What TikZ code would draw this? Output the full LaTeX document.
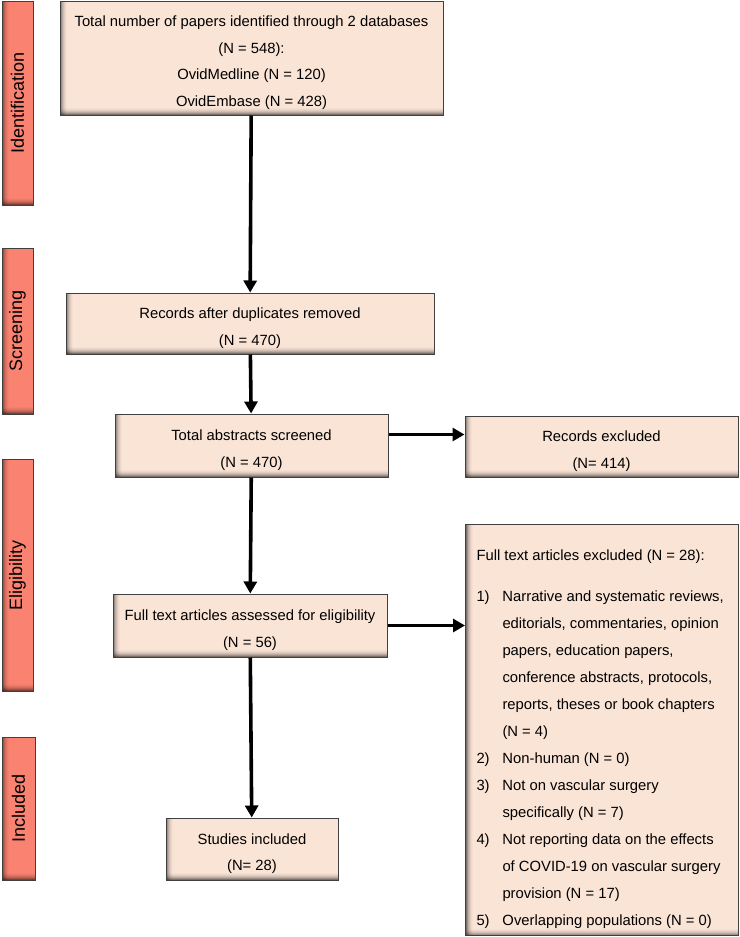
\documentclass[tikz,border=0pt]{standalone}
\usepackage{fontspec}
\setmainfont{Liberation Sans}
\usepackage{xcolor}
\usepackage{tikz}
\usetikzlibrary{arrows.meta, positioning, calc}

\definecolor{peach}{RGB}{250,228,214}
\definecolor{salmon}{RGB}{250,130,112}
\definecolor{edgegray}{RGB}{64,64,64}

% item number and hanging indent for the exclusion list
\newcommand{\xnum}[1]{\makebox[26pt][l]{#1}}
\newcommand{\xind}{\hspace*{26pt}}
% taller first line pushes box text a little down
\newcommand{\tallstrut}{\rule{0pt}{20pt}}

\begin{document}
\begin{tikzpicture} [x = 1pt, y = -1pt, font = \fontsize{14.8}{26.6}\selectfont,
	shaded/.style = {draw = edgegray, line width = 1pt, fill = #1, inner sep = 0pt,
		path picture = {
			% soft inner shadow along left and bottom edges
			\foreach \d/\o in {0.5/0.5, 1.5/0.36, 2.5/0.25, 3.5/0.16, 4.5/0.1, 5.5/0.05, 6.5/0.02} {
				\draw [black, opacity = \o, line width = 1pt]
				([xshift = \d pt]path picture bounding box.south west) -- ([xshift = \d pt]path picture bounding box.north west);
				\draw [black, opacity = \o, line width = 1pt]
				([yshift = \d pt]path picture bounding box.south west) -- ([yshift = \d pt]path picture bounding box.south east);
			}
		}},
	box/.style = {shaded = peach, align = center},
	phase/.style = {shaded = salmon, minimum width = 31pt, font = \fontsize{18}{20}\selectfont},
	flow/.style = {-{Triangle[width = 13pt, length = 12pt]}, line width = 3.6pt}]
			% Page frame
			\useasboundingbox (0,0) rectangle (739,937);

			% Phase labels down the left side
			\node (pid) [phase, minimum height = 204pt] at (17.5, 103) {\rotatebox{90}{Identification}};
			\node (pscr) [phase, minimum height = 166pt] at (17.5, 331) {\rotatebox{90}{Screening}};
			\node (pelig) [phase, minimum height = 232pt] at (17.5, 575) {\rotatebox{90}{Eligibility}};
			\node (pinc) [phase, minimum height = 143pt, minimum width = 33pt] at (18.5, 808.5) {\rotatebox{90}{Included}};

			% Main column
			\node (id) [box, minimum width = 383pt, minimum height = 114pt] at (251.5, 58)
			{\tallstrut Total number of papers identified through 2 databases\\ (N = 548):\\ OvidMedline (N = 120)\\ OvidEmbase (N = 428)};
			\node (dup) [box, minimum width = 368pt, minimum height = 61pt] at (250, 323.5)
			{\tallstrut Records after duplicates removed\\ (N = 470)};
			\node (abs) [box, minimum width = 273pt, minimum height = 63pt] at (251.5, 445.5)
			{\tallstrut Total abstracts screened\\ (N = 470)};
			\node (full) [box, minimum width = 274pt, minimum height = 63pt] at (250, 625.5)
			{\tallstrut Full text articles assessed for eligibility\\ (N = 56)};
			\node (incl) [box, minimum width = 172pt, minimum height = 62pt] at (252, 849)
			{\tallstrut Studies included\\ (N= 28)};

			% Exclusion boxes on the right
			\node (recx) [box, minimum width = 273pt, minimum height = 61pt] at (601.5, 446.5)
			{\tallstrut Records excluded\\ (N= 414)};
			\node (fullx) [shaded = peach, anchor = north west, inner xsep = 11pt] at (465, 524)
			{\parbox[c][411pt][t]{251pt}{\fontsize{14.8}{27}\selectfont\raggedright
					\vspace*{25pt}
					Full text articles excluded (N = 28):\\[14pt]
					\xnum{1)}Narrative and systematic reviews,\\
					\xind editorials, commentaries, opinion\\
					\xind papers, education papers,\\
					\xind conference abstracts, protocols,\\
					\xind reports, theses or book chapters\\
					\xind (N = 4)\\
					\xnum{2)}Non-human (N = 0)\\
					\xnum{3)}Not on vascular surgery\\
					\xind specifically (N = 7)\\
					\xnum{4)}Not reporting data on the effects\\
					\xind of COVID-19 on vascular surgery\\
					\xind provision (N = 17)\\
					\xnum{5)}Overlapping populations (N = 0)}};

			% Draw Arrows
			\coordinate (absout) at ([yshift = 11pt]abs.east);
			\path [flow]
			(id) edge (dup)
			(dup) edge (abs)
			(absout) edge (absout -| recx.west)
			(abs) edge (full)
			(full.east) edge (full.east -| fullx.west)
			(full) edge (incl);
		\end{tikzpicture}
\end{document}
